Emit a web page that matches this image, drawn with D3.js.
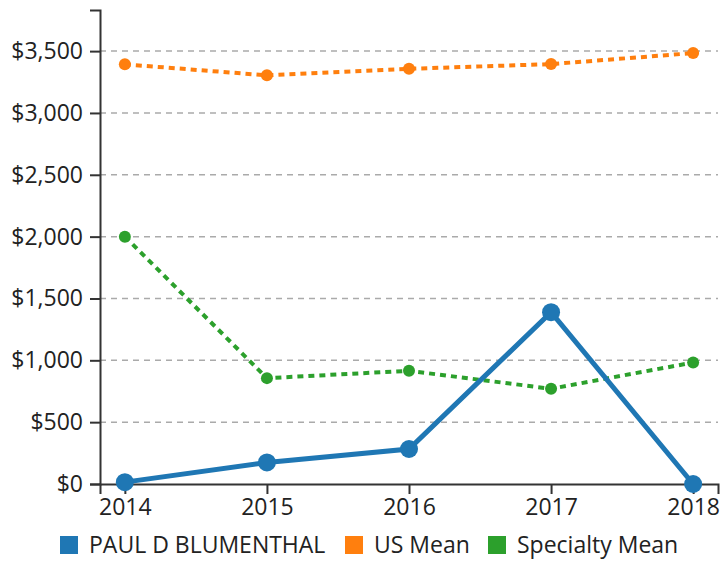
<!DOCTYPE html>
<html>
<head>
<meta charset="utf-8">
<style>
	body { margin: 0; background: #fff; }
	svg text { font-family: "Open Sans", "Noto Sans", sans-serif; fill: #222; }
</style>
</head>
<body>
<div id="chart"></div>

<script src="https://d3js.org/d3.v7.min.js"></script>
<script>

	var w = 724, h = 564;

	// data
	var years = ["2014", "2015", "2016", "2017", "2018"];
	var doctor = [15, 174, 283, 1389, 0];
	var usMean = [3393, 3304, 3357, 3395, 3484];
	var specialtyMean = [2000, 856, 915, 770, 982];
	var yTicks = [0, 500, 1000, 1500, 2000, 2500, 3000, 3500];
	var seriesNames = ["PAUL D BLUMENTHAL", "US Mean", "Specialty Mean"];
	var seriesColors = ["#1f77b4", "#ff7f0e", "#2ca02c"];

	var svg = d3.select("#chart")
				.append("svg")
				.attr("width", w)
				.attr("height", h);

	var x = d3.scalePoint()
			  .domain(years)
			  .range([100, 718])
			  .padding(0.175);

	var yMax = d3.max(usMean) * 1.1;
	var y = d3.scaleLinear()
			  .domain([0, yMax])
			  .range([484, 10]);

	// dashed grid lines
	svg.append("g")
	   .selectAll("line")
	   .data(yTicks.slice(1))
	   .enter()
	   .append("line")
	   .attr("x1", 100)
	   .attr("x2", 718)
	   .attr("y1", function(d) { return y(d); })
	   .attr("y2", function(d) { return y(d); })
	   .attr("stroke", "#aaa")
	   .attr("stroke-width", 1.5)
	   .attr("stroke-dasharray", "6,5");

	var yAxis = d3.axisLeft(y)
				  .tickValues(yTicks)
				  .tickSize(10)
				  .tickPadding(7)
				  .tickFormat(d3.format("$,"));
	var xAxis = d3.axisBottom(x)
				  .tickSize(10)
				  .tickPadding(5);

	var gy = svg.append("g")
		.attr("transform", "translate(100,0)")
		.call(yAxis);
	var gx = svg.append("g")
		.attr("transform", "translate(0,484)")
		.call(xAxis);

	[gx, gy].forEach(function(g) {
		g.selectAll("path, line").attr("stroke", "#333").attr("stroke-width", 2);
		g.selectAll("text").attr("font-size", 23).attr("fill", "#222")
		 .style("font-family", "'Open Sans', 'Noto Sans', sans-serif");
	});

	var line = d3.line()
				 .x(function(d, i) { return x(years[i]); })
				 .y(function(d) { return y(d); });

	// mean series (dotted)
	[[specialtyMean, 2], [usMean, 1]].forEach(function(s) {
		var vals = s[0], c = seriesColors[s[1]];
		svg.append("path")
		   .datum(vals)
		   .attr("d", line)
		   .attr("fill", "none")
		   .attr("stroke", c)
		   .attr("stroke-width", 4)
		   .attr("stroke-dasharray", "6,5");
		svg.append("g")
		   .selectAll("circle")
		   .data(vals)
		   .enter()
		   .append("circle")
		   .attr("cx", function(d, i) { return x(years[i]); })
		   .attr("cy", function(d) { return y(d); })
		   .attr("r", 6)
		   .attr("fill", c);
	});

	// doctor series
	svg.append("path")
	   .datum(doctor)
	   .attr("d", line)
	   .attr("fill", "none")
	   .attr("stroke", seriesColors[0])
	   .attr("stroke-width", 5);
	svg.append("g")
	   .selectAll("circle")
	   .data(doctor)
	   .enter()
	   .append("circle")
	   .attr("cx", function(d, i) { return x(years[i]); })
	   .attr("cy", function(d) { return y(d); })
	   .attr("r", 9)
	   .attr("fill", seriesColors[0]);

	// legend
	var legendX = [60, 345, 488];
	var legend = svg.append("g")
					.selectAll("g")
					.data(seriesNames)
					.enter()
					.append("g")
					.attr("transform", function(d, i) { return "translate(" + legendX[i] + ",536)"; });
	legend.append("rect")
		  .attr("width", 18)
		  .attr("height", 18)
		  .attr("fill", function(d, i) { return seriesColors[i]; });
	legend.append("text")
		  .attr("x", 29)
		  .attr("y", 17)
		  .attr("font-size", 23)
		  .text(function(d) { return d; });

</script>
</body>
</html>
